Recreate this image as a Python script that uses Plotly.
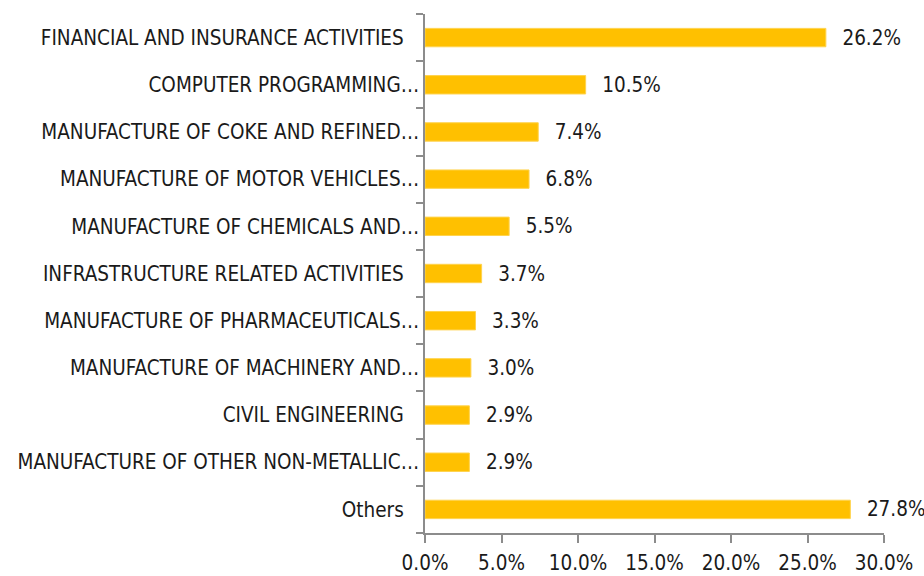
import plotly.graph_objects as go

categories = [
    "FINANCIAL AND INSURANCE ACTIVITIES",
    "COMPUTER PROGRAMMING…",
    "MANUFACTURE OF COKE AND REFINED…",
    "MANUFACTURE OF MOTOR VEHICLES…",
    "MANUFACTURE OF CHEMICALS AND…",
    "INFRASTRUCTURE RELATED ACTIVITIES",
    "MANUFACTURE OF PHARMACEUTICALS…",
    "MANUFACTURE OF MACHINERY AND…",
    "CIVIL ENGINEERING",
    "MANUFACTURE OF OTHER NON-METALLIC…",
    "Others",
]
values = [26.2, 10.5, 7.4, 6.8, 5.5, 3.7, 3.3, 3.0, 2.9, 2.9, 27.8]
x_ticks = [0, 5, 10, 15, 20, 25, 30]

FONT = "DejaVu Sans Condensed, DejaVu Sans, sans-serif"
FS = 20.5

# labels without ellipsis carry a trailing gap in the original
tick_text = [c if c.endswith("…") else c + "\u00a0\u00a0\u2009" for c in categories]

fig = go.Figure()
fig.add_trace(go.Bar(
    y=categories,
    x=values,
    orientation="h",
    marker=dict(color="#FFC000", line=dict(color="#FFD34D", width=1)),
    text=["\u00a0\u00a0\u200a" + f"{v:.1f}%" for v in values],
    textposition="outside",
    constraintext="none",
    textfont=dict(family=FONT, size=FS, color="#1a1a1a"),
    cliponaxis=False,
    width=0.39,
    hoverinfo="skip",
))

fig.update_layout(
    width=924, height=576,
    margin=dict(l=425, r=40, t=14, b=43, autoexpand=False),
    paper_bgcolor="white", plot_bgcolor="white",
    showlegend=False,
    font=dict(family=FONT, size=FS, color="#1a1a1a"),
    xaxis=dict(
        range=[0, 30], tickvals=x_ticks,
        ticktext=[f"{t:.1f}%" for t in x_ticks],
        showgrid=False, zeroline=False, automargin=False,
        showline=True, linecolor="#8c8c8c", linewidth=1.5,
        ticks="outside", ticklen=8, tickcolor="#8c8c8c", tickwidth=1.5,
        ticklabelstandoff=3,
        tickfont=dict(family=FONT, size=FS, color="#1a1a1a"),
        fixedrange=True,
    ),
    yaxis=dict(
        type="category", categoryorder="array", categoryarray=categories,
        autorange="reversed", automargin=False,
        tickvals=categories, ticktext=tick_text,
        tickson="boundaries",
        showgrid=False, zeroline=False,
        showline=True, linecolor="#8c8c8c", linewidth=1.5,
        ticks="outside", ticklen=7, tickcolor="#8c8c8c", tickwidth=1.5,
        tickfont=dict(family=FONT, size=FS, color="#1a1a1a"),
        fixedrange=True,
    ),
)

fig.write_html(
    "out.html",
    config={"displayModeBar": False},
    post_script="document.body.style.margin='0';document.body.style.overflow='hidden';",
)
